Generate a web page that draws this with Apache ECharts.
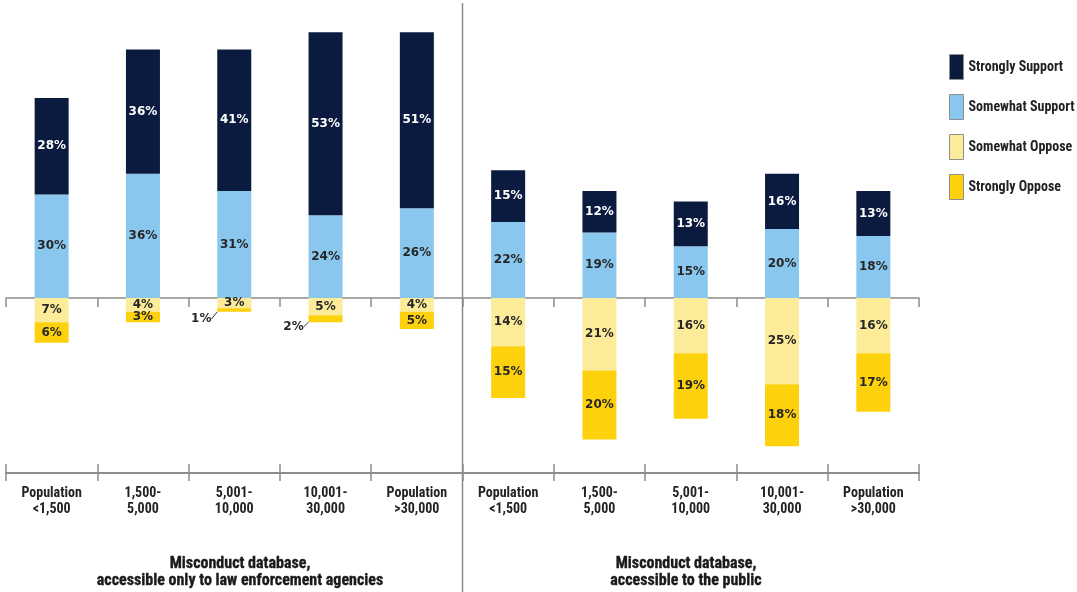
<!DOCTYPE html>
<html>
<head>
<meta charset="utf-8">
<script src="https://cdn.jsdelivr.net/npm/echarts@6/dist/echarts.min.js"></script>
<style>
  html, body { margin: 0; padding: 0; background: #fff; }
  #chart { width: 1077px; height: 592px; }
</style>
</head>
<body>
<div id="chart"></div>
<script>
// Town-size groups, repeated for the two database options
const categories = [
  'Population\n<1,500', '1,500-\n5,000', '5,001-\n10,000', '10,001-\n30,000', 'Population\n>30,000',
  'Population\n<1,500', '1,500-\n5,000', '5,001-\n10,000', '10,001-\n30,000', 'Population\n>30,000'
];
const seriesNames = ['Strongly Support', 'Somewhat Support', 'Somewhat Oppose', 'Strongly Oppose'];
const stronglySupport = [28, 36, 41, 53, 51, 15, 12, 13, 16, 13];
const somewhatSupport = [30, 36, 31, 24, 26, 22, 19, 15, 20, 18];
const somewhatOppose  = [7, 4, 3, 5, 4, 14, 21, 16, 25, 16];
const stronglyOppose  = [6, 3, 1, 2, 5, 15, 20, 19, 18, 17];
const groupTitles = [
  'Misconduct database,\naccessible only to law enforcement agencies',
  'Misconduct database,\naccessible to the public'
];

const COLORS = {
  strongSup: '#0b1b3f',
  someSup: '#89c7ee',
  someOpp: '#fcec99',
  strongOpp: '#fdd10c'
};
const COND = '"Roboto Condensed", "DejaVu Sans Condensed", "Liberation Sans Narrow", "Arial Narrow", sans-serif';
const LABEL_FONT = '"DejaVu Sans", Verdana, sans-serif';

const GRID = { left: 6, right: 158, top: 22, bottom: 119 };

const chart = echarts.init(document.getElementById('chart'), null, { renderer: 'canvas' });

function pctLabel(color) {
  return {
    show: true,
    position: 'inside',
    color: color,
    fontFamily: LABEL_FONT,
    fontSize: 12,
    fontWeight: 'bold',
    formatter: p => Math.abs(p.value) + '%'
  };
}

// Labels of very thin segments sit to the left of the bar with a short leader
const OUTSIDE_LABELS = { 2: { dx: -33, dy: 9 }, 3: { dx: -32, dy: 8 } };

const axisGray = '#8c8c8c';
function catAxis(opts) {
  return Object.assign({
    type: 'category',
    data: categories,
    position: 'bottom',
    boundaryGap: true,
    axisLine: { show: true, lineStyle: { color: axisGray, width: 1.5 } },
    axisTick: { show: true, interval: 0, lineStyle: { color: axisGray, width: 1.5 } },
    axisLabel: { show: false },
    splitLine: { show: false }
  }, opts);
}

const gridWidth = 1077 - GRID.left - GRID.right;
const dividerX = GRID.left + gridWidth / 2;

function groupTitle(text, x) {
  return {
    type: 'text',
    x: x, y: 555,
    style: {
      text: text, align: 'center', verticalAlign: 'top',
      fontFamily: COND, fontSize: 16, fontWeight: 'bold', lineHeight: 17,
      fill: '#1a1a1a', stroke: '#1a1a1a', lineWidth: 0.35
    },
    z: 10
  };
}

chart.setOption({
  animation: false,
  backgroundColor: '#ffffff',
  grid: GRID,
  legend: {
    orient: 'vertical',
    left: 944,
    top: 49,
    itemWidth: 14,
    itemHeight: 25,
    itemGap: 14,
    icon: 'rect',
    data: seriesNames,
    itemStyle: { borderColor: '#8f8f8f', borderWidth: 1 },
    textStyle: { fontFamily: COND, fontSize: 14, fontWeight: 'bold', color: '#222', padding: [0, 0, 0, 0] }
  },
  graphic: [
    {
      type: 'line',
      shape: { x1: dividerX, y1: 3, x2: dividerX, y2: 592 },
      style: { stroke: '#8a8a8a', lineWidth: 1.5 },
      z: 10
    },
    groupTitle(groupTitles[0], 240),
    groupTitle(groupTitles[1], 686)
  ],
  xAxis: [
    // zero line, ticks down
    catAxis({ axisLine: { show: true, onZero: true, lineStyle: { color: axisGray, width: 1.5 } },
              axisTick: { show: true, interval: 0, length: 9, inside: false, lineStyle: { color: axisGray, width: 1.5 } } }),
    // zero line, ticks up
    catAxis({ axisLine: { show: true, onZero: true, lineStyle: { color: axisGray, width: 1.5 } },
              axisTick: { show: true, interval: 0, length: 9, inside: true, lineStyle: { color: axisGray, width: 1.5 } } }),
    // bottom line with category labels
    catAxis({ axisLine: { show: true, onZero: false, lineStyle: { color: axisGray, width: 1.5 } },
              axisTick: { show: true, interval: 0, length: 8, inside: false, lineStyle: { color: axisGray, width: 1.5 } },
              axisLabel: { show: true, interval: 0, margin: 12, fontFamily: COND, fontSize: 14, fontWeight: 'bold', lineHeight: 16, color: '#222' } }),
    catAxis({ axisLine: { show: true, onZero: false, lineStyle: { color: axisGray, width: 1.5 } },
              axisTick: { show: true, interval: 0, length: 8, inside: true, lineStyle: { color: axisGray, width: 1.5 } } })
  ],
  yAxis: {
    type: 'value',
    min: -50.72,
    max: 80,
    show: false,
    splitLine: { show: false }
  },
  series: [
    {
      name: 'Somewhat Support', type: 'bar', stack: 'resp', xAxisIndex: 0, barWidth: 34,
      itemStyle: { color: COLORS.someSup },
      label: pctLabel('#262626'),
      data: somewhatSupport
    },
    {
      name: 'Strongly Support', type: 'bar', stack: 'resp', xAxisIndex: 0, barWidth: 34,
      itemStyle: { color: COLORS.strongSup },
      label: pctLabel('#ffffff'),
      data: stronglySupport
    },
    {
      name: 'Somewhat Oppose', type: 'bar', stack: 'resp', xAxisIndex: 0, barWidth: 34,
      itemStyle: { color: COLORS.someOpp },
      label: pctLabel('#262626'),
      data: somewhatOppose.map(v => -v)
    },
    {
      name: 'Strongly Oppose', type: 'bar', stack: 'resp', xAxisIndex: 0, barWidth: 34,
      itemStyle: { color: COLORS.strongOpp },
      label: pctLabel('#262626'),
      labelLine: { show: true, lineStyle: { color: '#333', width: 1 } },
      labelLayout: p => OUTSIDE_LABELS[p.dataIndex] || {},
      data: stronglyOppose.map((v, i) => OUTSIDE_LABELS[i]
        ? { value: -v, labelLine: { show: true } }
        : { value: -v, labelLine: { show: false } })
    }
  ]
});
</script>
</body>
</html>
